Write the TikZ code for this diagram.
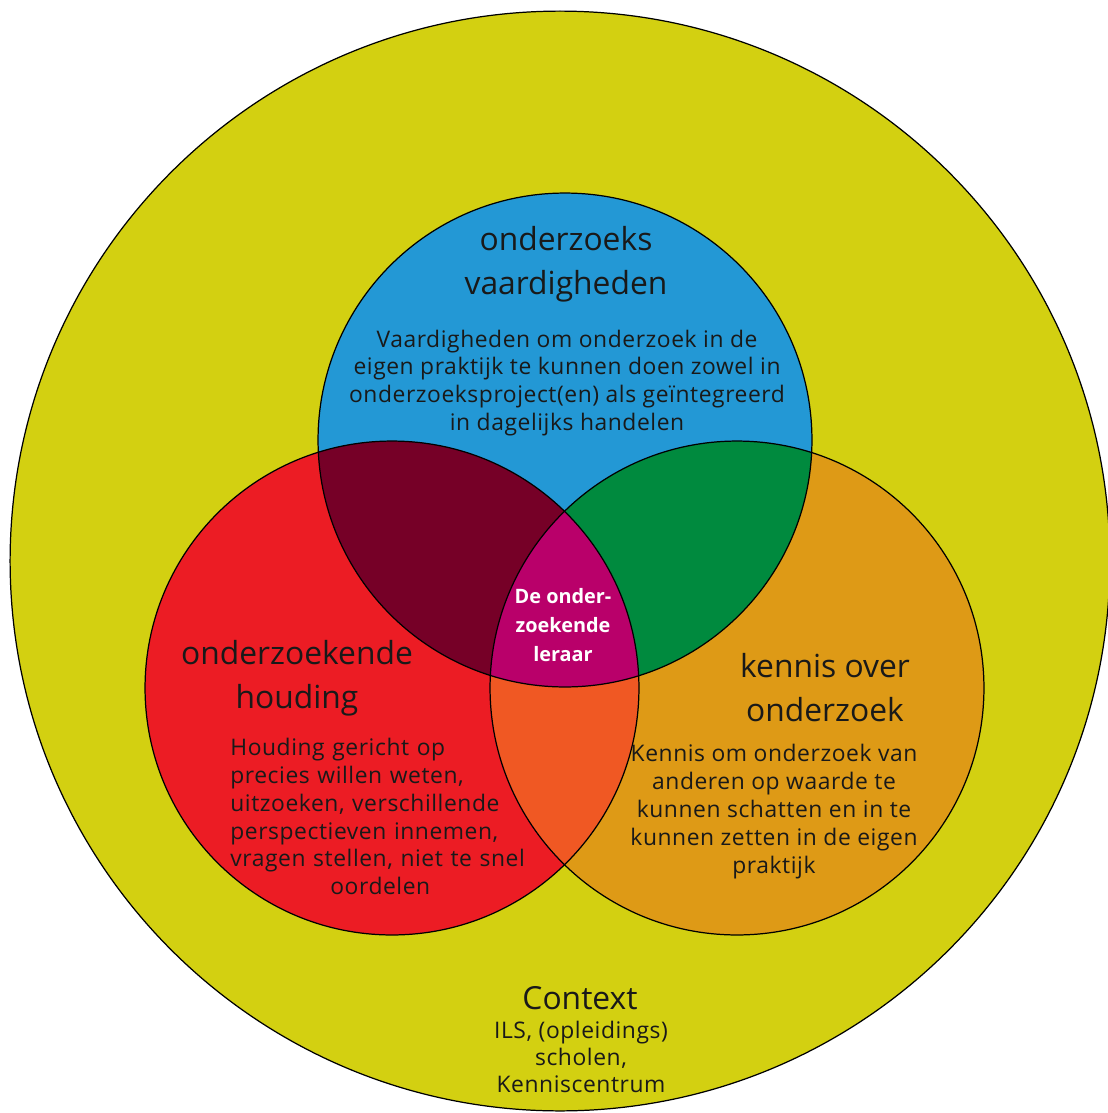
\documentclass[tikz,border=0pt]{standalone}
\usepackage{fontspec}
\setmainfont{Open Sans}
\newfontfamily\bodyfont[LetterSpace=2.5]{Open Sans}
\usetikzlibrary{positioning}
\definecolor{ctxcol}{RGB}{211,208,17}
\definecolor{vaardcol}{RGB}{35,152,213}
\definecolor{houdcol}{RGB}{236,28,36}
\definecolor{kenniscol}{RGB}{222,154,22}
\definecolor{vhcol}{RGB}{118,0,39}
\definecolor{vkcol}{RGB}{0,138,62}
\definecolor{hkcol}{RGB}{240,88,35}
\definecolor{leraarcol}{RGB}{185,0,106}
\tikzset{
    ring/.style = {draw=black, line width=0.7pt},
    title/.style = {align=center, inner sep=0pt, text=black!90,
        font=\fontsize{18.1pt}{25pt}\selectfont},
    body/.style = {align=center, inner sep=0pt, text=black!90,
        font=\bodyfont\fontsize{13pt}{15.9pt}\selectfont},
    core/.style = {align=center, inner sep=0pt, text=white,
        font=\fontsize{11.3pt}{16.7pt}\selectfont\bfseries}
}
\begin{document}
\begin{tikzpicture}[x=0.02cm, y=-0.02cm]
        \useasboundingbox (0,0) rectangle (1108,1113);
        \coordinate (ctx) at (560,561);
        \coordinate (vaard) at (565,440);
        \coordinate (houd) at (392,688);
        \coordinate (kennis) at (737,688);
        \def\rsmall{4.94cm}
        \fill [ctxcol] (ctx) circle [radius=11cm];
        \fill [vaardcol] (vaard) circle [radius=\rsmall];
        \fill [houdcol] (houd) circle [radius=\rsmall];
        \fill [kenniscol] (kennis) circle [radius=\rsmall];
        \begin{scope}
            \clip (vaard) circle [radius=\rsmall];
            \fill [vhcol] (houd) circle [radius=\rsmall];
            \fill [vkcol] (kennis) circle [radius=\rsmall];
        \end{scope}
        \begin{scope}
            \clip (houd) circle [radius=\rsmall];
            \fill [hkcol] (kennis) circle [radius=\rsmall];
            \clip (vaard) circle [radius=\rsmall];
            \fill [leraarcol] (kennis) circle [radius=\rsmall];
        \end{scope}
        \draw [ring] (ctx) circle [radius=11cm];
        \draw [ring] (vaard) circle [radius=\rsmall];
        \draw [ring] (houd) circle [radius=\rsmall];
        \draw [ring] (kennis) circle [radius=\rsmall];
        \node [title] (vaardtitle) at (566,264.5) {onderzoeks\\vaardigheden};
        \node [body] (vaardtext) at (567,383) {Vaardigheden om onderzoek in de\\eigen praktijk te kunnen doen zowel in\\onderzoeksproject(en) als geïntegreerd\\in dagelijks handelen};
        \node [title] (houdtitle) at (297,678.5) {onderzoekende\\houding};
        \node [body, align=left, text width=6cm, anchor=north west] (houdtext) at (230,737.5) {Houding gericht op\\precies willen weten,\\uitzoeken, verschillende\\perspectieven innemen,\\vragen stellen, niet te snel\\\hspace*{\fill}oordelen\hspace*{\fill}};
        \node [title] (kennistitle) at (825,688) {kennis over\\onderzoek};
        \node [body] (kennistext) at (774,811.5) {Kennis om onderzoek van\\anderen op waarde te\\kunnen schatten en in te\\kunnen zetten in de eigen\\praktijk};
        \node [core] (leraar) at (563,625) {De onder-\\zoekende\\leraar};
        \node [title, anchor=base] (ctxtitle) at (580,1009) {Context};
        \node [body, font=\bodyfont\fontsize{13pt}{15.3pt}\selectfont] (ctxtext) at (581,1057) {ILS, (opleidings)\\scholen,\\Kenniscentrum};
\end{tikzpicture}
\end{document}
